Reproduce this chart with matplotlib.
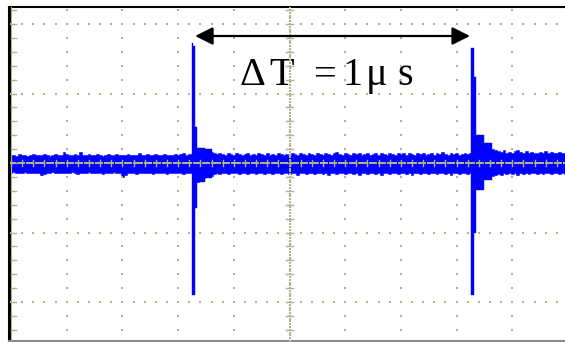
import numpy as np
import matplotlib
matplotlib.use("Agg")
import matplotlib.pyplot as plt

# ---------------- data (time in us, amplitude in divisions) ----------------
t_step = 0.01
noise_up = [.11,.12,.10,.13,.11,.12,.10,.12,.13,.11,
            .12,.11,.13,.12,.10,.12,.13,.11,.12,.16,
            .13,.11,.12,.13,.12,.16,.12,.11,.13,.12,
            .11,.13,.12,.10,.12,.13,.11,.12,.13,.11,
            .12,.11,.13,.12,.11,.12,.14,.11,.12,.13,
            .12,.11,.13,.12,.11,.13,.12,.11,.12,.13,
            .12,.13,.14,.12,.13,.13,.20,.22,.21,.20,
            .18,.19,.16,.14,.13,.15,.13,.12,.14,.13,
            .12,.14,.13,.12,.13,.14,.12,.13,.12,.14,
            .13,.12,.14,.12,.13,.12,.14,.13,.12,.13,
            .12,.14,.13,.12,.14,.13,.12,.14,.13,.12,
            .14,.13,.12,.14,.13,.12,.14,.16,.13,.12,
            .14,.13,.12,.14,.13,.15,.12,.13,.14,.12,
            .13,.15,.12,.14,.13,.12,.15,.13,.12,.14,
            .13,.15,.12,.14,.13,.12,.14,.13,.15,.12,
            .13,.14,.12,.15,.13,.16,.13,.12,.14,.13,
            .14,.12,.13,.14,.13,.14,.13,.27,.29,.26,
            .25,.24,.22,.20,.18,.17,.16,.18,.15,.16,
            .15,.17,.18,.16,.15,.17,.14,.16,.15,.14,
            .16,.15,.17,.14,.16,.15,.14,.16,.15,.14,.15]
noise_lo = [-.14,-.13,-.15,-.14,-.15,-.13,-.14,-.15,-.14,-.15,
            -.14,-.17,-.16,-.14,-.15,-.13,-.14,-.15,-.14,-.15,
            -.14,-.15,-.13,-.14,-.16,-.14,-.15,-.14,-.13,-.15,
            -.14,-.15,-.14,-.16,-.14,-.15,-.14,-.13,-.15,-.14,
            -.20,-.17,-.14,-.15,-.14,-.16,-.14,-.15,-.14,-.15,
            -.14,-.16,-.15,-.14,-.15,-.14,-.16,-.15,-.14,-.15,
            -.14,-.15,-.16,-.14,-.15,-.15,-.25,-.27,-.24,-.22,
            -.20,-.19,-.18,-.16,-.15,-.16,-.15,-.14,-.16,-.15,
            -.14,-.15,-.16,-.14,-.15,-.16,-.14,-.15,-.16,-.14,
            -.15,-.16,-.14,-.15,-.16,-.15,-.14,-.16,-.15,-.14,
            -.16,-.15,-.14,-.17,-.15,-.14,-.16,-.15,-.14,-.16,
            -.15,-.14,-.16,-.15,-.17,-.14,-.15,-.16,-.15,-.14,
            -.16,-.15,-.14,-.16,-.15,-.17,-.14,-.15,-.16,-.15,
            -.14,-.16,-.15,-.17,-.14,-.15,-.16,-.15,-.14,-.16,
            -.15,-.14,-.16,-.15,-.17,-.15,-.14,-.16,-.15,-.14,
            -.16,-.15,-.14,-.16,-.15,-.14,-.16,-.15,-.17,-.15,
            -.14,-.16,-.15,-.14,-.16,-.15,-.17,-.22,-.24,-.22,
            -.22,-.20,-.19,-.18,-.17,-.16,-.17,-.15,-.16,-.15,
            -.16,-.15,-.17,-.15,-.16,-.14,-.16,-.15,-.14,-.16,
            -.15,-.16,-.14,-.15,-.16,-.15,-.14,-.16,-.15,-.16,-.15]

spike1_t  = [0.6505, 0.6550, 0.6615, 0.6690, 0.6960, 0.7220]
spike1_up = [1.73, 1.68, 0.52, 0.22, 0.20, 0.20]
spike1_lo = [-1.90, -1.90, -0.65, -0.27, -0.22, -0.22]

spike2_t  = [1.6505, 1.6545, 1.6610, 1.6680, 1.7000, 1.7270]
spike2_up = [1.65, 1.65, 1.24, 0.40, 0.29, 0.24]
spike2_lo = [-1.90, -1.90, -1.00, -0.39, -0.24, -0.24]

delta_start = 0.661
delta_end = 1.648
label_parts = ["Δ", "T", "=", "1", "μ", "s"]

# ---------------- figure ----------------
W, H = 565, 342
fig = plt.figure(figsize=(W / 100, H / 100), dpi=100)
left_px, right_px, top_px, bot_px = 8.7, 575.0, 7.2, 340.5
ax = fig.add_axes([left_px / W, 1 - bot_px / H, (right_px - left_px) / W, (bot_px - top_px) / H])
px_per_us = 278.5
px_per_div = 69.5
x0 = 11.0
y0 = 163.0
ax.set_xlim((left_px - x0) / px_per_us, (right_px - x0) / px_per_us)
ax.set_ylim((y0 - bot_px) / px_per_div, (y0 - top_px) / px_per_div)
ax.set_xticks([]); ax.set_yticks([])
ax.spines['right'].set_visible(False)
ax.spines['left'].set_color('black'); ax.spines['left'].set_linewidth(2.2)
ax.spines['top'].set_color('black'); ax.spines['top'].set_linewidth(1.5)
ax.spines['bottom'].set_color('#8a8a8a'); ax.spines['bottom'].set_linewidth(1.5)

blue = '#0000ff'
t = np.arange(len(noise_up)) * t_step
ax.fill_between(t, noise_lo, noise_up, step='mid', color=blue, lw=0.4, zorder=2)
ax.fill_between(spike1_t, spike1_lo, spike1_up, step='post', color=blue, lw=0.3, zorder=2)
ax.fill_between(spike2_t, spike2_lo, spike2_up, step='post', color=blue, lw=0.3, zorder=2)

# ---------------- graticule ----------------
gcol = '#b2b28a'
ms = 1.6
yv = np.round(np.arange(-12, 12) * 0.2, 6)
for k in range(1, 11):
    tx = k * 0.2
    if abs(tx - 1.0) < 1e-9:
        continue
    ax.scatter(np.full_like(yv, tx), yv, s=ms, marker='s', color=gcol, lw=0, zorder=5)
xt = np.round(np.arange(0, 51) * 0.04, 6)
for v in (-2, -1, 1, 2):
    ax.scatter(xt, np.full_like(xt, v), s=ms, marker='s', color=gcol, lw=0, zorder=5)
# center vertical line
yd = np.arange(-64, 57) * 0.04
ax.scatter(np.full_like(yd, 1.0), yd, s=1.0, marker='s', color=gcol, lw=0, zorder=5)
for v in yv:
    ax.plot([1.0 - 0.014, 1.0 + 0.014], [v, v], color=gcol, lw=1.0, zorder=5)
# center horizontal line
xd = np.arange(0, 251) * 0.008
ax.scatter(xd, np.zeros_like(xd), s=1.0, marker='s', color=gcol, lw=0, zorder=5)
for tx in xt:
    ax.plot([tx, tx], [-0.05, 0.05], color=gcol, lw=1.0, zorder=5)
# left border line and ticks
ax.axvline(0.0, color=gcol, lw=0.8, zorder=5)
for v in yv:
    ax.plot([0.0, 0.018], [v, v], color=gcol, lw=1.0, zorder=5)

# ---------------- annotation ----------------
ay = (y0 - 36) / px_per_div
ax.annotate('', xy=(delta_start, ay), xytext=(delta_end, ay),
            arrowprops=dict(arrowstyle='<|-|>,head_length=1.0,head_width=0.5',
                            mutation_scale=10.8, lw=1.6, color='black',
                            shrinkA=0, shrinkB=0), zorder=6)
part_center_px = [252.0, 282.0, 325.5, 352.0, 376.5, 405.0]
for s, xp in zip(label_parts, part_center_px):
    ax.text((xp - x0) / px_per_us, (y0 - 85) / px_per_div, s,
            family=['Liberation Serif', 'DejaVu Serif'], fontsize=29,
            ha='center', va='baseline', color='black', zorder=4)

fig.savefig('out.png', dpi=100)
